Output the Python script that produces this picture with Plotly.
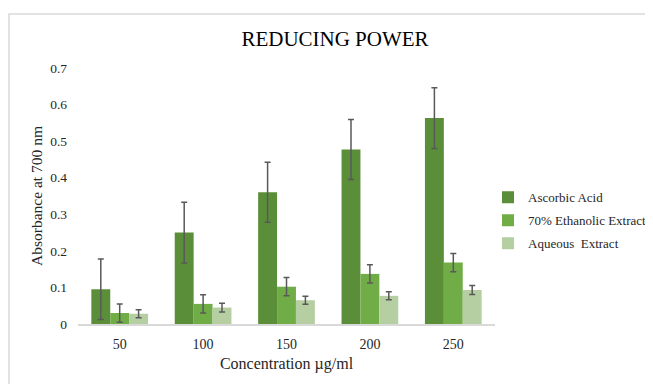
import plotly.graph_objects as go

categories = ["50", "100", "150", "200", "250"]
ascorbic = [0.095, 0.250, 0.360, 0.477, 0.563]
ascorbic_err = [0.083, 0.083, 0.082, 0.082, 0.083]
ethanolic = [0.030, 0.055, 0.102, 0.137, 0.168]
ethanolic_err = [0.025, 0.025, 0.025, 0.025, 0.025]
aqueous = [0.028, 0.045, 0.065, 0.077, 0.093]
aqueous_err = [0.011, 0.012, 0.011, 0.011, 0.012]

series = [
    ("Ascorbic Acid", ascorbic, ascorbic_err, "#5B8E38"),
    ("70% Ethanolic Extract", ethanolic, ethanolic_err, "#70AD47"),
    ("Aqueous  Extract", aqueous, aqueous_err, "#B5CFA3"),
]

font = "Liberation Serif"
txt = "#262626"
W, H = 645, 376
L, R, T, B = 70, 158, 60, 60
PW, PH = W - L - R, H - T - B

fig = go.Figure()
for i, (name, vals, err, col) in enumerate(series):
    fig.add_trace(go.Bar(
        x=categories, y=vals, name=name, marker_color=col,
        marker_line_width=0, legendgroup=f"g{i}",
        error_y=dict(type="data", array=err, visible=True,
                     color="#595959", thickness=1.5, width=3),
    ))

fig.update_layout(
    width=W, height=H,
    margin=dict(l=L, r=R, t=T, b=B, autoexpand=False),
    paper_bgcolor="white", plot_bgcolor="white",
    barmode="group", bargap=0.32, bargroupgap=0,
    font=dict(family=font, size=13, color=txt),
    title=dict(text="REDUCING POWER", x=327 / W, xanchor="center",
               y=1 - 31 / H, yanchor="middle",
               font=dict(family=font, size=21, color="#000000")),
    showlegend=True,
    legend=dict(x=(480 - L) / PW, xanchor="left",
                y=(T + PH - 174.4) / PH, yanchor="top",
                traceorder="grouped", tracegroupgap=3,
                font=dict(family=font, size=13, color=txt),
                itemwidth=30),
    xaxis=dict(showgrid=False, showline=True, linecolor="#D9D9D9",
               linewidth=1.5, ticks="", ticklabelstandoff=6, automargin=False,
               tickfont=dict(family=font, size=14, color=txt),
               title=dict(text="Concentration µg/ml", standoff=7,
                          font=dict(family=font, size=16, color=txt))),
    yaxis=dict(range=[0, 0.7], dtick=0.1, showgrid=False, showline=False,
               zeroline=False, ticks="", ticklabelstandoff=10, automargin=False,
               tickformat="~g",
               tickfont=dict(family=font, size=13.5, color=txt),
               title=dict(text="Absorbance at 700 nm", standoff=3,
                          font=dict(family=font, size=15.5, color=txt))),
)

fig.add_shape(type="rect", xref="paper", yref="paper",
              x0=(1 - L) / PW, x1=(700 - L) / PW,
              y0=(T + PH - 420) / PH, y1=(T + PH - 6) / PH,
              line=dict(color="#D9D9D9", width=1.5), fillcolor="rgba(0,0,0,0)",
              layer="below")

fig.write_html("out.html")
